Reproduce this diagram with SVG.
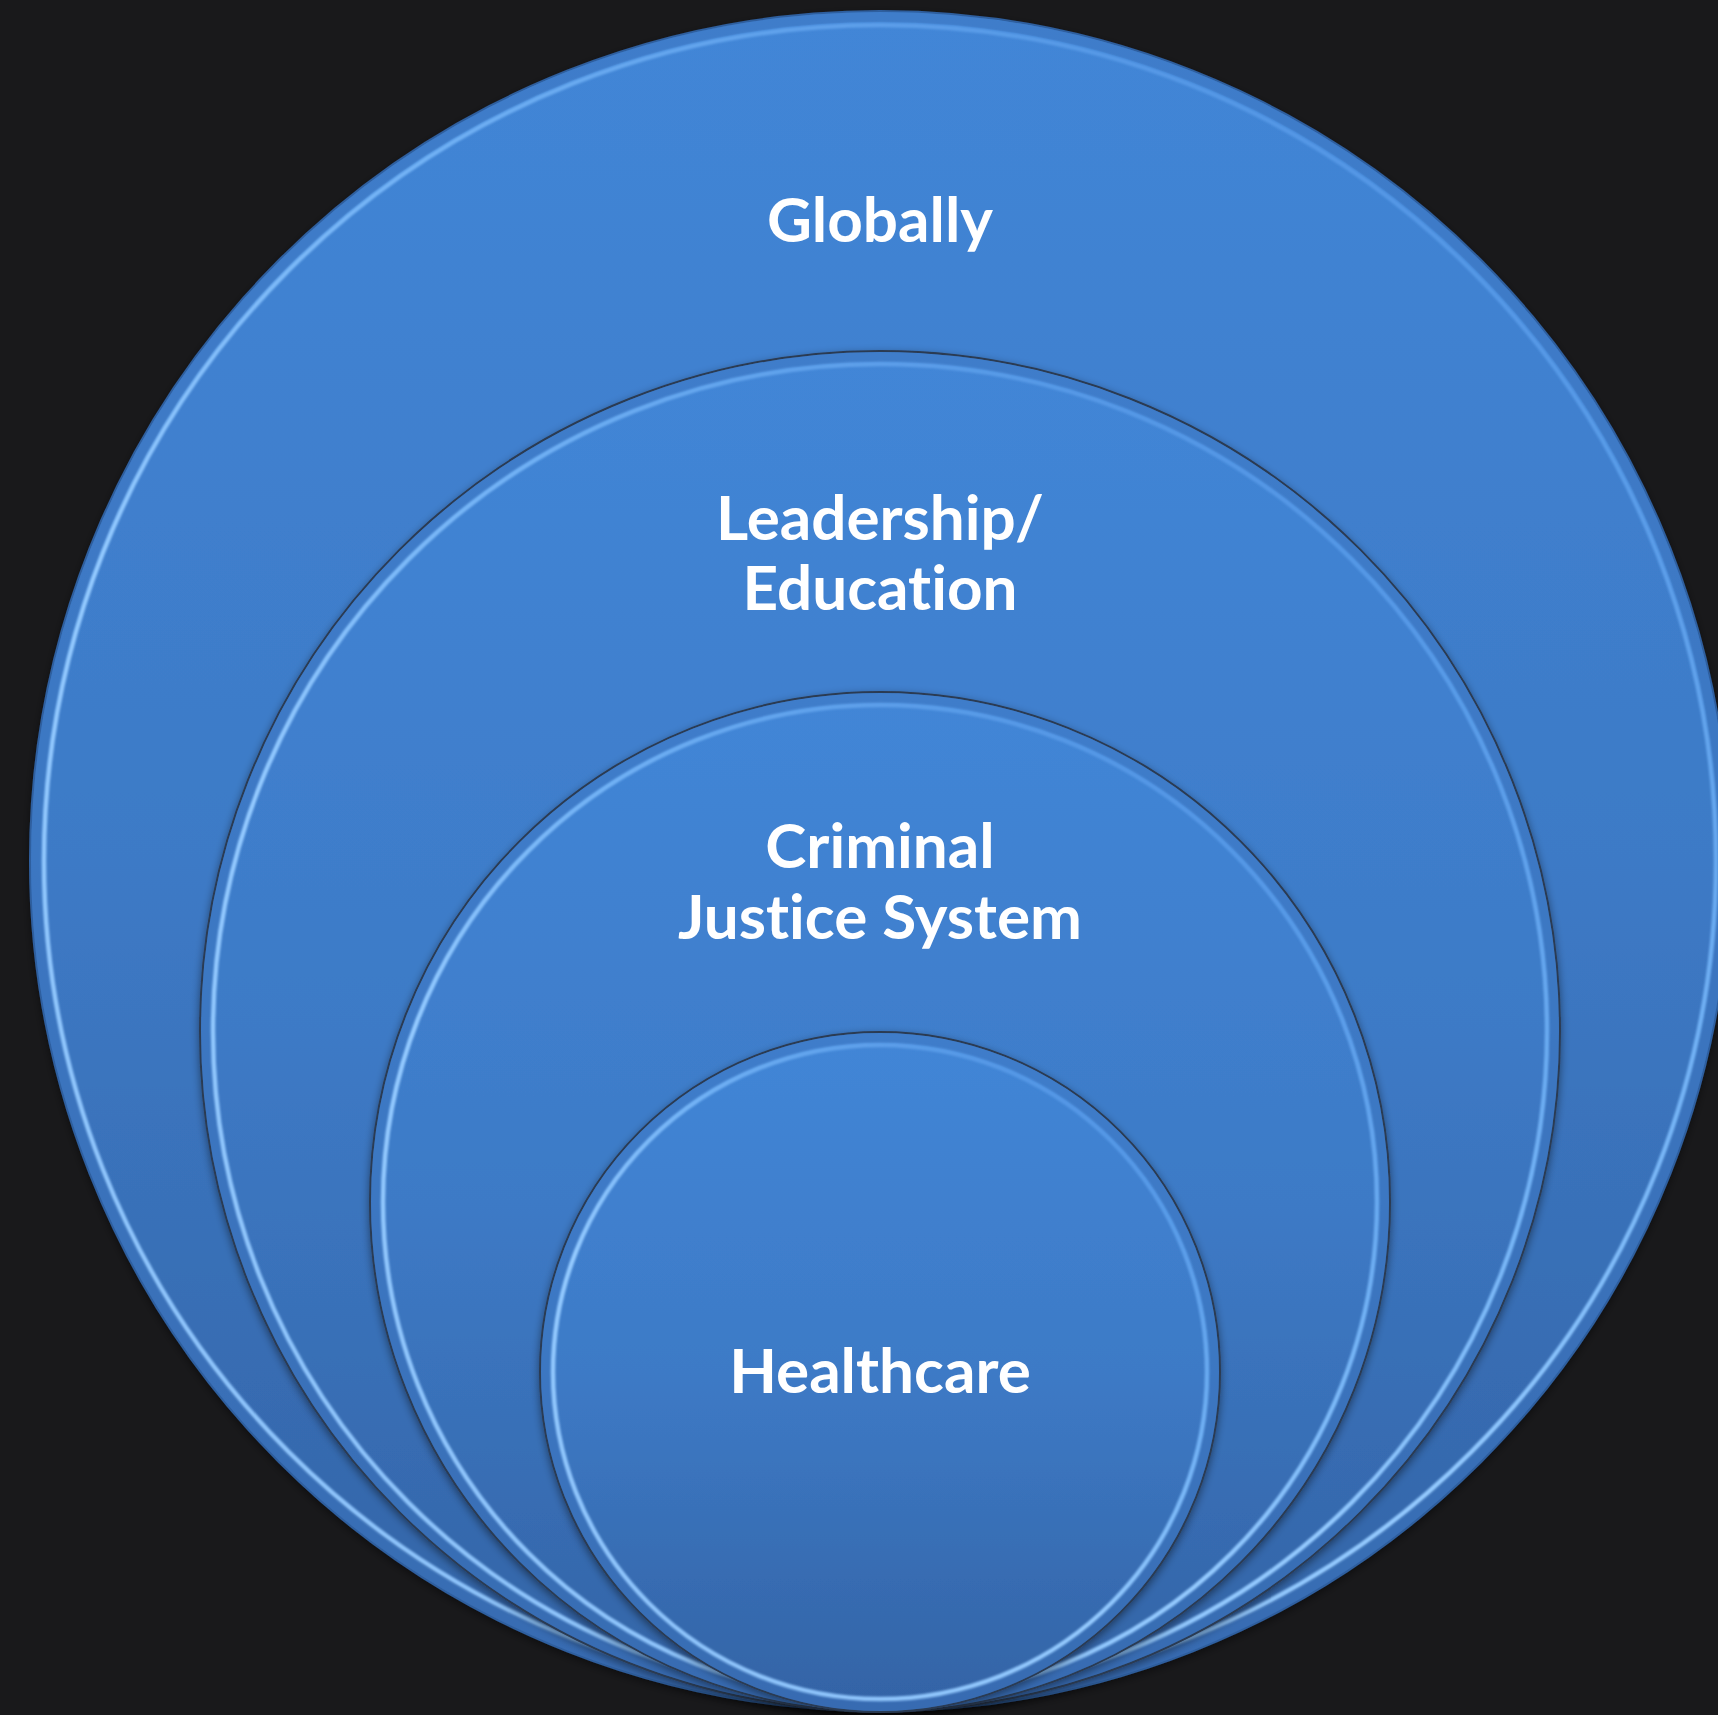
<svg xmlns="http://www.w3.org/2000/svg" width="1718" height="1715" viewBox="0 0 1718 1715">
  <style>
    .bg { fill: #19191b; }
    .disc { fill: url(#fillGrad); stroke: #2c3b52; stroke-width: 2; filter: url(#shadow); }
    .outer { stroke: #2f5f9f; }
    .rim { fill: none; stroke: url(#rimGrad); stroke-width: 4.5; filter: url(#soft); }
    .band { fill: none; stroke: #3b73bd; stroke-width: 10; opacity: 0.5; }
    .label { font-family: Lato, "Open Sans", "Liberation Sans", sans-serif; font-weight: bold; font-size: 62px; fill: #ffffff; text-anchor: middle; font-variant-ligatures: none; font-feature-settings: "liga" 0, "clig" 0; }
  </style>
  <defs>
    <linearGradient id="fillGrad" x1="0" y1="0" x2="0" y2="1">
      <stop offset="0" stop-color="#4286d7"/>
      <stop offset="0.5" stop-color="#3d7ac6"/>
      <stop offset="1" stop-color="#3363a5"/>
    </linearGradient>
    <linearGradient id="rimGrad" x1="0.85" y1="0" x2="0.15" y2="1">
      <stop offset="0" stop-color="#4a8ee0"/>
      <stop offset="0.35" stop-color="#72b2f5"/>
      <stop offset="0.6" stop-color="#94caff"/>
      <stop offset="1" stop-color="#8cc2fa"/>
    </linearGradient>
    <filter id="shadow" x="-10%" y="-10%" width="120%" height="120%">
      <feDropShadow dx="0" dy="3" stdDeviation="4" flood-color="#000000" flood-opacity="0.45"/>
    </filter>
    <filter id="soft" x="-5%" y="-5%" width="110%" height="110%">
      <feGaussianBlur stdDeviation="0.8"/>
    </filter>
  </defs>

  <rect class="bg" x="0" y="0" width="1718" height="1715"/>

  <g id="node-globally">
    <circle class="disc outer" cx="880" cy="861" r="850"/>
    <circle class="band" cx="880" cy="861" r="844"/>
    <circle class="rim" cx="880" cy="861" r="836"/>
    <text class="label" x="880" y="242">Globally</text>
  </g>

  <g id="node-leadership">
    <circle class="disc" cx="880" cy="1031" r="680"/>
    <circle class="band" cx="880" cy="1031" r="674"/>
    <circle class="rim" cx="880" cy="1031" r="667"/>
    <text class="label" x="880" y="540">Leadership/</text>
    <text class="label" x="880" y="610">Education</text>
  </g>

  <g id="node-criminal">
    <circle class="disc" cx="880" cy="1202" r="510"/>
    <circle class="band" cx="880" cy="1202" r="504"/>
    <circle class="rim" cx="880" cy="1202" r="497"/>
    <text class="label" x="880" y="868">Criminal</text>
    <text class="label" x="880" y="939">Justice System</text>
  </g>

  <g id="node-healthcare">
    <circle class="disc" cx="880" cy="1372" r="340"/>
    <circle class="band" cx="880" cy="1372" r="334"/>
    <circle class="rim" cx="880" cy="1372" r="327"/>
    <text class="label" x="880" y="1393">Healthcare</text>
  </g>

  <g id="connectors"></g>
</svg>
